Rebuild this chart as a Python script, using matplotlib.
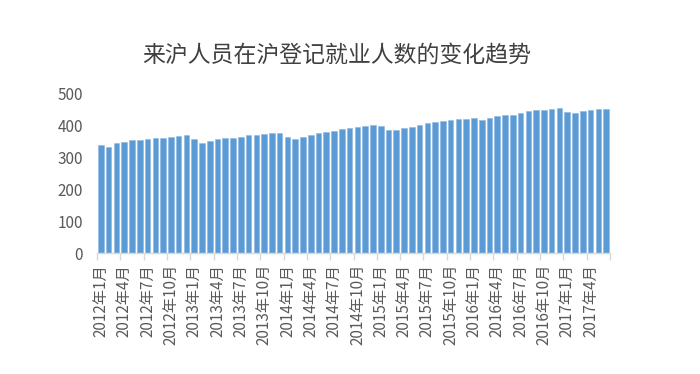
import matplotlib
matplotlib.use('Agg')
import matplotlib.pyplot as plt

plt.rcParams['font.family'] = ['Noto Sans CJK SC', 'DejaVu Sans']

# 月份类别: 2012年1月 - 2017年6月
months = [f'{y}年{m}月' for y in range(2012, 2018) for m in range(1, 13)][:66]

# 来沪人员在沪登记就业人数 (万人, 从图上读取)
values = [336, 330, 343, 346, 352, 352, 357, 360, 360, 363, 367, 370,
          357, 344, 349, 357, 360, 360, 363, 370, 370, 373, 376, 376,
          362, 357, 363, 369, 376, 379, 381, 387, 391, 394, 397, 400,
          397, 385, 385, 391, 394, 400, 405, 410, 413, 417, 420, 420,
          423, 417, 423, 429, 432, 432, 437, 444, 447, 447, 450, 453,
          441, 437, 444, 447, 450, 450]

title = '来沪人员在沪登记就业人数的变化趋势'
yticks = [0, 100, 200, 300, 400, 500]

text_color = '#595959'
bar_color = '#5B9BD5'
axis_color = '#D9D9D9'

fig = plt.figure(figsize=(7, 3.74), dpi=100)
ax = fig.add_axes([0.1386, 0.3235, 0.7328, 0.4278])

x = list(range(len(values)))
ax.bar(x, values, width=0.72, color=bar_color, edgecolor='#8DB8E3', linewidth=0.4)

ax.set_xlim(-0.5, len(values) - 0.5)
ax.set_ylim(0, 500)
ax.set_yticks(yticks)
ax.tick_params(axis='y', length=0, pad=10, labelsize=11, labelcolor=text_color)

# 每三个月一个标签
ax.set_xticks(x[::3])
ax.set_xticklabels(months[::3], rotation=90, fontsize=11, color=text_color)
ax.tick_params(axis='x', which='major', length=0, pad=8)
ax.set_xticks([i - 0.5 for i in range(0, len(values) + 1, 3)], minor=True)
ax.tick_params(axis='x', which='minor', length=5, width=1, color=axis_color)

for s in ['top', 'right', 'left']:
    ax.spines[s].set_visible(False)
ax.spines['bottom'].set_color(axis_color)
ax.spines['bottom'].set_linewidth(1)

fig.text(0.481, 0.853, title, ha='center', va='center', fontsize=16.5,
         color='#404040', fontweight='medium')

fig.savefig('out.png', dpi=100)
